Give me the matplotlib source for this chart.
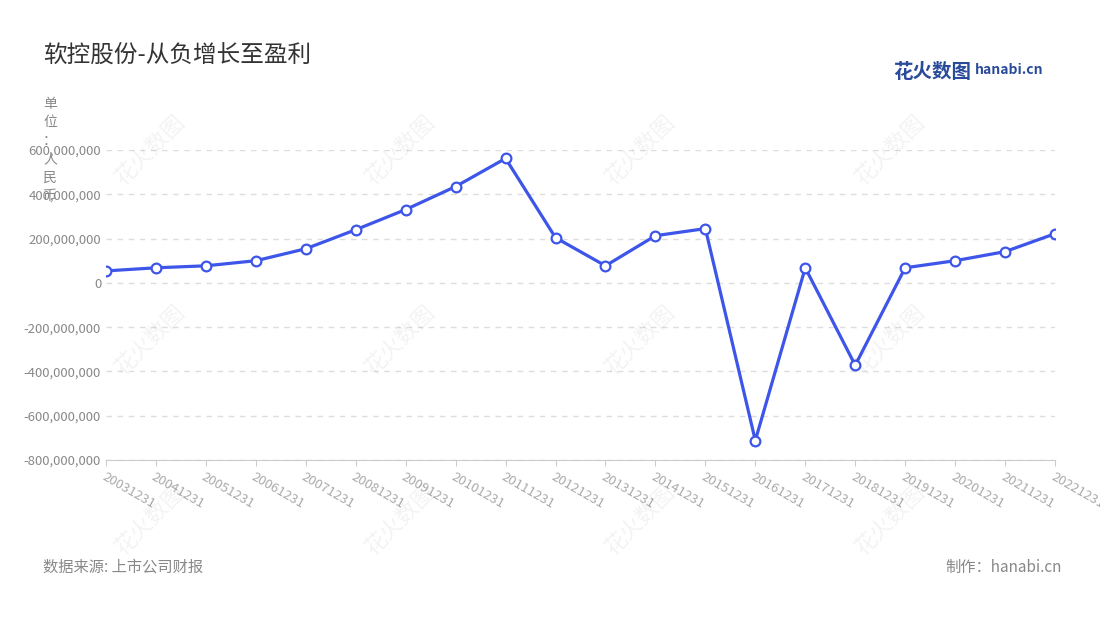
import matplotlib.pyplot as plt
from matplotlib.ticker import FuncFormatter

plt.rcParams['font.family'] = ['Noto Sans CJK SC', 'DejaVu Sans']

dates = ['20031231', '20041231', '20051231', '20061231', '20071231', '20081231',
         '20091231', '20101231', '20111231', '20121231', '20131231', '20141231',
         '20151231', '20161231', '20171231', '20181231', '20191231', '20201231',
         '20211231', '20221231']
profit = [54e6, 68e6, 77e6, 100e6, 154e6, 240e6, 331e6, 435e6, 562e6, 204e6,
          77e6, 213e6, 245e6, -712e6, 68e6, -372e6, 68e6, 100e6, 141e6, 222e6]

fig = plt.figure(figsize=(11, 6.2), dpi=100)
ax = fig.add_axes([106/1100, 1-460/620, (1055-106)/1100, (460-150)/620])

x = range(len(dates))
ax.plot(x, profit, color='#3d55e8', lw=2.3, marker='o', ms=7,
        mfc='white', mec='#3d55e8', mew=1.6, zorder=3)

ax.set_xlim(0, len(dates) - 1)
ax.set_ylim(-800e6, 600e6)
ax.set_yticks(range(-800000000, 600000001, 200000000))
ax.yaxis.set_major_formatter(FuncFormatter(lambda v, p: f'{int(v):,}'))
ax.set_xticks(list(x))
ax.set_xticklabels(dates, rotation=-30, ha='left', rotation_mode='anchor',
                   fontsize=9.5, color='#aaaaaa')
ax.tick_params(axis='y', length=0, labelsize=9.5, labelcolor='#888888')
ax.tick_params(axis='x', length=4, color='#cccccc')
ax.grid(axis='y', ls=(0, (4, 4)), color='#dddddd', lw=1)
for s in ['top', 'right', 'left']:
    ax.spines[s].set_visible(False)
ax.spines['bottom'].set_color('#cccccc')

fig.text(43/1100, 1-55/620, '软控股份-从负增长至盈利', fontsize=17, color='#333333', va='center')
fig.text(50/1100, 1-150/620, '单\n位\n：\n人\n民\n币', fontsize=10, color='#888888',
         ha='center', va='center', linespacing=1.4)
fig.text(43/1100, 1-567/620, '数据来源: 上市公司财报', fontsize=11, color='#888888', va='center')
fig.text(1062/1100, 1-567/620, '制作：hanabi.cn', fontsize=11, color='#888888', va='center', ha='right')
fig.text(893/1100, 1-72/620, '花火数图', fontsize=14, color='#2a4a9a', va='center', weight='bold')
fig.text(975/1100, 1-70/620, 'hanabi.cn', fontsize=10, color='#2a4a9a', va='center', weight='bold')

for wx in [150, 400, 640, 890]:
    for wy in [150, 340, 520]:
        fig.text(wx/1100, 1-wy/620, '花火数图', fontsize=16, color='#000000', alpha=0.05,
                 rotation=45, ha='center', va='center')

fig.savefig('out.png', dpi=100)
